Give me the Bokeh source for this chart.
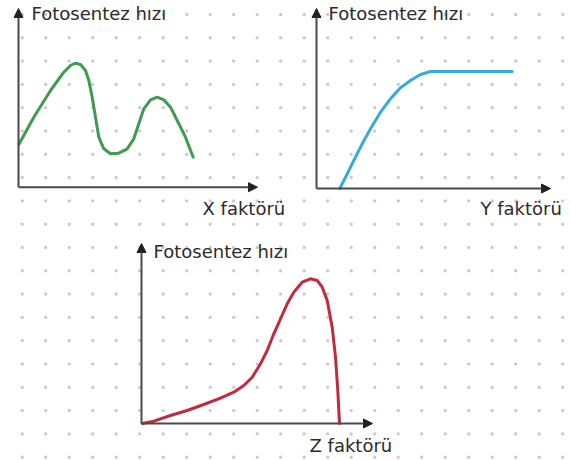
import numpy as np
from bokeh.plotting import figure
from bokeh.models import Range1d, Arrow, NormalHead
from bokeh.core.properties import value
from bokeh.embed import file_html
from bokeh.resources import INLINE

# ---- data (panel units: distance from each panel's origin) ----
x_curve_x = [0.3, 15.3, 32, 45.3, 52, 57, 62, 67, 70.3, 73.7, 77, 80.3, 85.3, 92, 100.3,
             108.7, 115.3, 120.3, 125.3, 132, 138.7, 145.3, 152, 158.7, 167, 174.7]
x_curve_y = [42.7, 70, 96.7, 115, 121.7, 124, 122.7, 116.7, 106.7, 90, 70, 50, 38.4, 33.4, 34,
             38.4, 48.4, 63.4, 78.4, 87.4, 90, 87.4, 80, 66.7, 50, 30]

y_curve_x = [23.3, 30.7, 37.3, 45.7, 54, 64, 74, 84, 94, 104, 114, 195.7]
y_curve_y = [0, 14.7, 28, 44.7, 59.7, 76.3, 89.7, 100.7, 108, 114, 117, 117]

z_curve_x = [0.7, 12.3, 29, 45.7, 62.3, 79, 92.3, 102.3, 110.7, 119, 125.7, 132.3, 139, 145.7,
             152.3, 160.7, 169, 175.7, 180.7, 185.7, 190.7, 194, 196.3, 198]
z_curve_y = [0, 2.3, 8, 13, 19, 25.3, 31.3, 38, 46.3, 59.7, 73, 89.7, 104.7, 119.7,
             131.3, 141.3, 144.7, 143, 136.3, 123, 96.3, 66.3, 33, 0]

y_label = "Fotosentez hızı"
x_labels = ["X faktörü", "Y faktörü", "Z faktörü"]
colors = ["#3f9a52", "#36aad8", "#c22a40"]

# ---- layout ----
W, H = 571, 460
X0, Y0 = 0, 0
# panel: origin (image px), axis lengths, label offsets
panels = [
    dict(name="X", ox=18, oy=186.7, xlen=239, ylen=178.7, ylab=(13, 174), xlab=(184, -21)),
    dict(name="Y", ox=316, oy=188, xlen=234, ylen=180, ylab=(12, 175), xlab=(164, -20)),
    dict(name="Z", ox=141, oy=423, xlen=231, ylen=180, ylab=(12, 172), xlab=(168, -22)),
]
curves = [(x_curve_x, x_curve_y), (y_curve_x, y_curve_y), (z_curve_x, z_curve_y)]

p = figure(width=W, height=H, output_backend="svg", toolbar_location=None,
           x_range=Range1d(X0, X0 + W), y_range=Range1d(Y0 + H, Y0),
           min_border=0, background_fill_color="white", border_fill_color="white")
p.axis.visible = False
p.grid.visible = False
p.outline_line_color = None

# dotted background
gx = 21.7 + 23.5 * np.arange(0, 24)
gy = 14 + 23.3 * np.arange(0, 20)
GX, GY = np.meshgrid(gx, gy)
p.scatter(GX.ravel(), GY.ravel(), marker="square", size=2, color="#c6c6c6", alpha=0.9)

axis_color = "#4a4a4a"
font = value("DejaVu Sans")
for pan, (cx, cy), col, xl in zip(panels, curves, colors, x_labels):
    n = pan["name"]
    p.extra_x_ranges[n] = Range1d(X0 - pan["ox"], X0 + W - pan["ox"])
    p.extra_y_ranges[n] = Range1d(pan["oy"] - (Y0 + H), pan["oy"] - Y0)
    p.line(cx, cy, x_range_name=n, y_range_name=n, line_color=col, line_width=3,
           line_cap="round", line_join="round")
    for (xe, ye) in [(pan["xlen"], 0), (0, pan["ylen"])]:
        p.add_layout(Arrow(x_start=0, y_start=0, x_end=xe, y_end=ye,
                           x_range_name=n, y_range_name=n,
                           line_color=axis_color, line_width=2,
                           end=NormalHead(size=9, fill_color="#222222", line_color="#222222",
                                          line_width=1)))
    p.text(x=[pan["ylab"][0]], y=[pan["ylab"][1]], text=[y_label], x_range_name=n,
           y_range_name=n, text_font=font, text_font_size="18px", text_color="#2b2b2b",
           text_baseline="alphabetic", text_align="left")
    p.text(x=[pan["xlab"][0]], y=[pan["xlab"][1]], text=[xl], x_range_name=n,
           y_range_name=n, text_font=font, text_font_size="18px", text_color="#2b2b2b",
           text_baseline="alphabetic", text_align="left")

open("out.html", "w").write(file_html(p, INLINE))
